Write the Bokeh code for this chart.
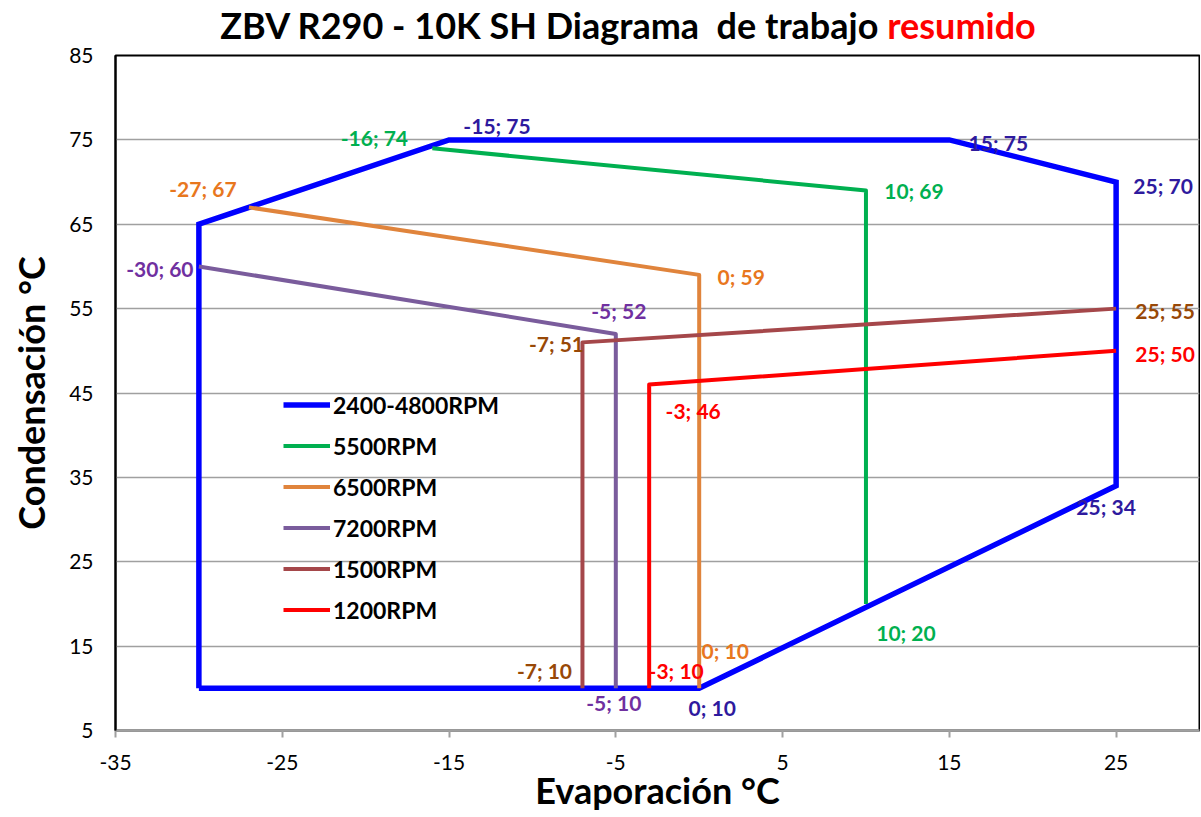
from bokeh.plotting import figure
from bokeh.models import Div, Range1d, FixedTicker, ColumnDataSource, Legend
from bokeh.layouts import column
from bokeh.core.properties import value
from bokeh.embed import file_html
from bokeh.resources import INLINE

FONT = "Lato"

# ---- data ----
series_names = ["2400-4800RPM", "5500RPM", "6500RPM", "7200RPM", "1500RPM", "1200RPM"]
env_x = [-30, 0, 25, 25, 15, -15, -30, -30]
env_y = [10, 10, 34, 70, 75, 75, 65, 10]
rpm5500_x = [-16, 10, 10]
rpm5500_y = [74, 69, 20]
rpm6500_x = [-27, 0, 0]
rpm6500_y = [67, 59, 10]
rpm7200_x = [-30, -5, -5]
rpm7200_y = [60, 52, 10]
rpm1500_x = [-7, -7, 25]
rpm1500_y = [10, 51, 55]
rpm1200_x = [-3, -3, 25]
rpm1200_y = [10, 46, 50]

x_ticks = [-35, -25, -15, -5, 5, 15, 25]
y_ticks = [5, 15, 25, 35, 45, 55, 65, 75, 85]

# point annotations
lab_x = [-15, -16, 15, 25, 10, -27, -30, 0, -5, -7, 25, 25, -3, 25, 10, 0, -7, -3, -5, 0]
lab_y = [75, 74, 75, 70, 69, 67, 60, 59, 52, 51, 55, 50, 46, 34, 20, 10, 10, 10, 10, 10]
lab_text = ["-15; 75", "-16; 74", "15; 75", "25; 70", "10; 69", "-27; 67", "-30; 60", "0; 59",
            "-5; 52", "-7; 51", "25; 55", "25; 50", "-3; 46", "25; 34", "10; 20", "0; 10",
            "-7; 10", "-3; 10", "-5; 10", "0; 10"]

# ---- styles ----
line_colors = ["#0000FF", "#00B050", "#E0843C", "#7A5C9C", "#A5474A", "#FF0000"]
line_widths = [5.5, 4, 4, 4, 4, 4]
NAVY, GREEN, ORANGE, PURPLE, BROWN, RED = "#2E1A9E", "#00B050", "#E8771E", "#7030A0", "#984807", "#FF0000"
lab_color = [NAVY, GREEN, NAVY, NAVY, GREEN, ORANGE, PURPLE, ORANGE, PURPLE, BROWN, BROWN, RED,
             RED, NAVY, GREEN, ORANGE, BROWN, RED, PURPLE, NAVY]
lab_dx = [48, -58, 49, 47, 48, -46, -39, 42, 3, -26, 49, 49, 44, -10, 40, 26, -38, 27, -2, 13]
lab_dy = [-14, -11, 3, 3, 0, -19, 2, 2, -23, 1, 2, 3, 26, 21, 29, -38, -18, -18, 14, 19]

title = Div(
    text=('<div style="width:1200px;text-align:center;padding-left:56px;padding-top:3px;box-sizing:border-box;'
          'font-family:Lato;font-weight:bold;font-size:36px;line-height:44px;color:#000;white-space:pre;">'
          'ZBV R290 - 10K SH Diagrama  de trabajo <span style="color:#FF0000">resumido</span></div>'),
    width=1200, height=43, margin=(0, 0, 0, 0))

p = figure(width=1200, height=772, output_backend="svg", toolbar_location=None,
           x_range=Range1d(-35, 30), y_range=Range1d(5, 85),
           min_border_left=115, min_border_right=1, min_border_top=12, min_border_bottom=85)
p.margin = (0, 0, 0, 0)
p.outline_line_color = "#000000"
p.outline_line_width = 2
p.background_fill_color = "white"
p.border_fill_color = None

p.xgrid.visible = False
p.ygrid.grid_line_color = "#A0A0A0"
p.ygrid.grid_line_width = 1.3

p.xaxis.ticker = FixedTicker(ticks=x_ticks)
p.yaxis.ticker = FixedTicker(ticks=y_ticks)
p.xaxis.major_label_overrides = {t: str(t) for t in x_ticks}
p.yaxis.major_label_overrides = {t: str(t) for t in y_ticks}
p.xaxis.minor_tick_line_color = None
p.yaxis.minor_tick_line_color = None
p.xaxis.axis_line_color = "#A0A0A0"
p.xaxis.axis_line_width = 2.5
p.xaxis.major_tick_line_color = "#A0A0A0"
p.xaxis.major_tick_line_width = 2
p.xaxis.major_tick_out = 7
p.xaxis.major_tick_in = 0
p.yaxis.axis_line_color = "#000000"
p.yaxis.axis_line_width = 2
p.yaxis.major_tick_line_color = None
p.yaxis.major_tick_out = 0
p.yaxis.major_tick_in = 0
for ax in (p.xaxis, p.yaxis):
    ax.major_label_text_font = FONT
    ax.major_label_text_font_size = "21px"
    ax.major_label_text_color = "#000000"
    ax.axis_label_text_font = FONT
    ax.axis_label_text_font_style = "bold"
    ax.axis_label_text_font_size = "36px"
    ax.axis_label_text_color = "#000000"
p.xaxis.major_label_standoff = 17
p.yaxis.major_label_standoff = 22
p.xaxis.axis_label = "Evaporación °C"
p.yaxis.axis_label = "Condensación °C"
p.xaxis.axis_label_standoff = -5
p.yaxis.axis_label_standoff = 13

all_x = [env_x, rpm5500_x, rpm6500_x, rpm7200_x, rpm1500_x, rpm1200_x]
all_y = [env_y, rpm5500_y, rpm6500_y, rpm7200_y, rpm1500_y, rpm1200_y]
items = []
for name, xs, ys, c, w in zip(series_names, all_x, all_y, line_colors, line_widths):
    r = p.line(xs, ys, line_color=c, line_width=w, line_join="miter" if name.startswith("2400") else "round")
    items.append((name, [r]))

src = ColumnDataSource(dict(x=lab_x, y=lab_y, t=lab_text, c=lab_color, dx=lab_dx, dy=lab_dy))
p.text(x="x", y="y", text="t", source=src, text_color="c", x_offset="dx", y_offset="dy",
       text_font=value(FONT), text_font_style="bold", text_font_size="21px",
       text_align="center", text_baseline="middle")

legend = Legend(items=items, location=(168, 100), orientation="vertical",
                background_fill_alpha=0, border_line_color=None,
                padding=0, margin=0, spacing=0, glyph_width=47, glyph_height=41,
                label_height=41, label_standoff=3,
                label_text_font=FONT, label_text_font_style="bold",
                label_text_font_size="23px", label_text_color="#000000")
p.add_layout(legend)

layout = column(title, p, spacing=0)
open("out.html", "w").write(file_html(layout, INLINE))
